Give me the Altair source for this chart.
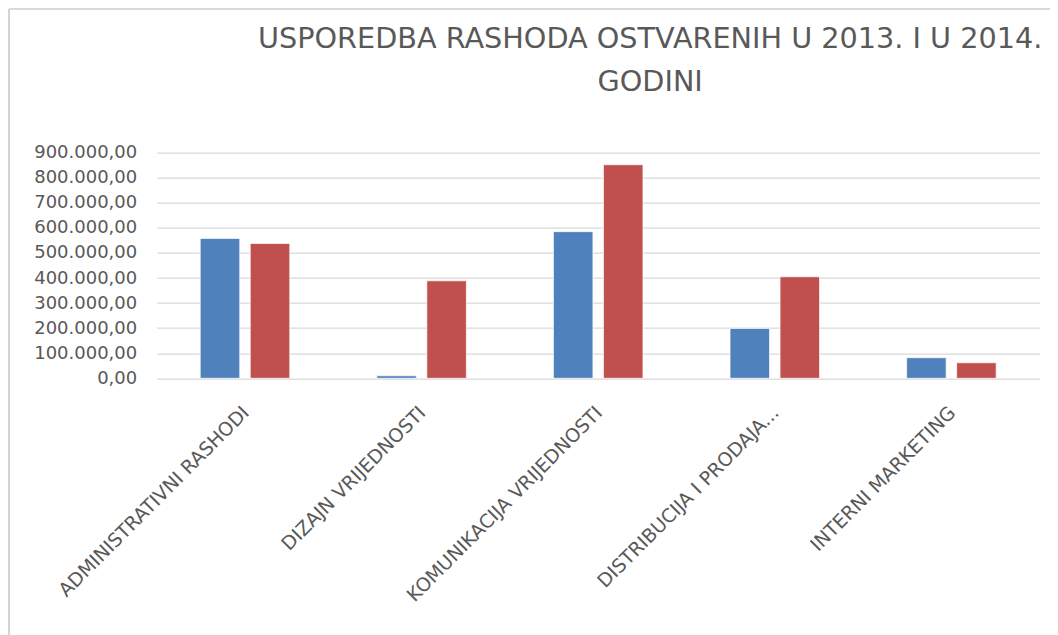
import altair as alt
import pandas as pd

categories = [
    "ADMINISTRATIVNI RASHODI",
    "DIZAJN VRIJEDNOSTI",
    "KOMUNIKACIJA VRIJEDNOSTI",
    "DISTRIBUCIJA I PRODAJA...",
    "INTERNI MARKETING",
]
series = ["2013", "2014"]
values_2013 = [558000, 10000, 585000, 199000, 82000]
values_2014 = [538000, 389000, 852000, 405000, 62000]
y_ticks = [0, 100000, 200000, 300000, 400000, 500000, 600000, 700000, 800000, 900000]
title_lines = ["USPOREDBA RASHODA OSTVARENIH U 2013. I U 2014.", "GODINI"]
colors = ["#4F81BD", "#C0504D"]

rows = []
for c, a, b in zip(categories, values_2013, values_2014):
    rows.append({"kategorija": c, "godina": series[0], "iznos": a})
    rows.append({"kategorija": c, "godina": series[1], "iznos": b})
df = pd.DataFrame(rows)

bars = alt.Chart(df).mark_bar(stroke="white", strokeWidth=1, strokeOpacity=0.7).encode(
    x=alt.X(
        "kategorija:N",
        sort=categories,
        title=None,
        scale=alt.Scale(paddingInner=0.493, paddingOuter=0.2465),
        axis=alt.Axis(
            labelAngle=-45,
            labelAlign="right",
            labelBaseline="middle",
            labelPadding=31,
            labelOffset=1,
            labelFont="DejaVu Sans",
            labelFontSize=19,
            labelColor="#595959",
            labelLimit=400,
            domain=False,
            ticks=False,
        ),
    ),
    xOffset=alt.XOffset("godina:N", sort=series, scale=alt.Scale(paddingInner=0.21, paddingOuter=0)),
    y=alt.Y(
        "iznos:Q",
        title=None,
        scale=alt.Scale(domain=[0, 900000], nice=False),
        axis=alt.Axis(
            values=y_ticks,
            format=",.2f",
            labelFont="DejaVu Sans",
            labelFontSize=18,
            labelColor="#595959",
            labelPadding=20,
            domain=False,
            ticks=False,
            grid=True,
            gridColor="#D9D9D9",
            gridWidth=1.2,
        ),
    ),
    color=alt.Color("godina:N", sort=series, scale=alt.Scale(domain=series, range=colors), legend=None),
)

frame_df = pd.DataFrame({"k": [0]})
left_line = alt.Chart(frame_df).mark_rule(color="#D4D4D4", strokeWidth=2).encode(
    x=alt.value(-147.7), y=alt.value(-143.7), y2=alt.value(500)
)
top_line = alt.Chart(frame_df).mark_rule(color="#D9D9D9", strokeWidth=2).encode(
    x=alt.value(-147.7), x2=alt.value(920), y=alt.value(-143.7)
)

chart = (
    alt.layer(left_line, top_line, bars)
    .properties(
        width=883,
        height=225.6,
        autosize=alt.AutoSizeParams(type="none"),
        padding={"left": 148.7, "top": 144.7, "right": 10, "bottom": 262},
        title=alt.TitleParams(
            text=title_lines,
            anchor="middle",
            frame="group",
            baseline="alphabetic",
            font="DejaVu Sans",
            fontSize=28.7,
            fontWeight="normal",
            color="#595959",
            lineHeight=43,
            offset=-112,
            dx=52,
        ),
    )
    .configure(locale={"number": {"decimal": ",", "thousands": ".", "grouping": [3], "currency": ["", ""]}})
    .configure_view(stroke=None)
)

chart.save("out.html", embed_options={"renderer": "svg", "actions": False})
